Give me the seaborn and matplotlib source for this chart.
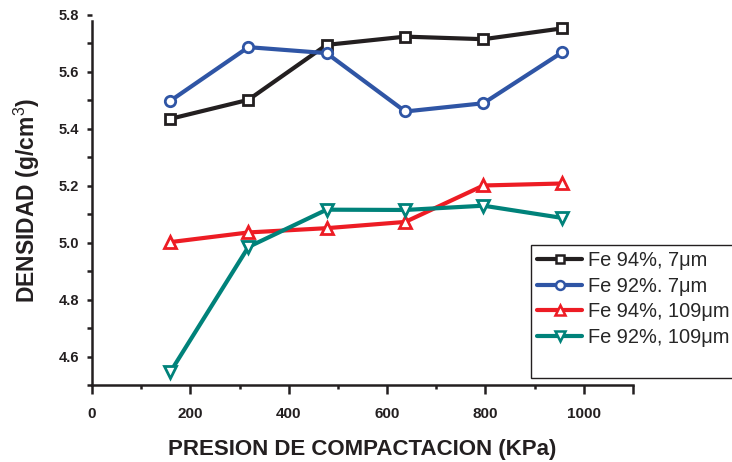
import matplotlib
matplotlib.use("Agg")
import matplotlib.pyplot as plt
import seaborn as sns
import pandas as pd
from matplotlib.lines import Line2D
from matplotlib.ticker import MultipleLocator

# Compaction pressure (KPa) and measured density (g/cm3) for each mix
presion = [159, 318, 477, 637, 796, 956]
fe94_7um = [5.435, 5.502, 5.695, 5.724, 5.715, 5.753]
fe92_7um = [5.498, 5.687, 5.666, 5.461, 5.490, 5.669]
fe94_109um = [5.002, 5.036, 5.051, 5.073, 5.201, 5.208]
fe92_109um = [4.545, 4.985, 5.116, 5.115, 5.130, 5.087]

series = ["Fe 94%, 7\u03bcm", "Fe 92%. 7\u03bcm", "Fe 94%, 109\u03bcm", "Fe 92%, 109\u03bcm"]
valores = [fe94_7um, fe92_7um, fe94_109um, fe92_109um]
colores = ["#231f20", "#2f55a5", "#ed1c24", "#00827a"]
marcadores = ["s", "o", "^", "v"]
tamanos = [7.0, 7.5, 8.5, 8.5]

df = pd.DataFrame(
    [(s, x, y) for s, ys in zip(series, valores) for x, y in zip(presion, ys)],
    columns=["serie", "presion", "densidad"],
)

sns.set_theme(style="ticks")
plt.rcParams["font.family"] = ["Liberation Sans", "DejaVu Sans"]
plt.rcParams["mathtext.fontset"] = "custom"
plt.rcParams["mathtext.rm"] = "Liberation Sans"

fig = plt.figure(figsize=(7.32, 4.62), dpi=100)
ax = fig.add_axes([92 / 732, 1 - 385 / 462, (633 - 92) / 732, (385 - 15) / 462])

for s, c, m, ms in zip(series, colores, marcadores, tamanos):
    sns.lineplot(
        data=df[df["serie"] == s], x="presion", y="densidad", ax=ax,
        color=c, marker=m, markersize=ms, mfc="white", mec=c, mew=2.0,
        linewidth=3.0, label=s, legend=False,
    )

ax.set_xlim(0, 1100)
ax.set_ylim(4.5, 5.8)
ax.xaxis.set_minor_locator(MultipleLocator(100))
ax.yaxis.set_major_locator(MultipleLocator(0.2))
ax.yaxis.set_minor_locator(MultipleLocator(0.1))
ax.set_xticks([0, 200, 400, 600, 800, 1000, 1100])
ax.set_xticklabels(["0", "200", "400", "600", "800", "1000", ""])

for sp in ["top", "right"]:
    ax.spines[sp].set_visible(False)
for sp in ["left", "bottom"]:
    ax.spines[sp].set_linewidth(1.8)
    ax.spines[sp].set_color("#231f20")
ax.spines["left"].set_bounds(4.5, 5.78)

ax.tick_params(which="major", direction="out", width=1.8, colors="#231f20")
ax.tick_params(which="minor", direction="out", length=3, width=1.8, colors="#231f20")
ax.tick_params(axis="x", which="major", length=6.5, pad=9, labelsize=11)
ax.tick_params(axis="y", which="major", length=3.5, pad=6, labelsize=10.5)
ax.tick_params(axis="y", which="minor", length=3.5)
for lab in ax.get_xticklabels() + ax.get_yticklabels():
    lab.set_fontweight("bold")

ax.set_xlabel("PRESION DE COMPACTACION (KPa)", fontsize=16, fontweight="bold",
              color="#231f20", labelpad=13)
ax.set_ylabel("DENSIDAD (g/cm$^{3}$)", fontsize=16.5, fontweight="bold",
              color="#231f20", labelpad=12)

handles = [
    Line2D([], [], color=c, marker=m, markersize=ms * 0.85, mfc="white", mec=c, mew=1.8,
           linewidth=3.0)
    for c, m, ms in zip(colores, marcadores, tamanos)
]
handles.append(Line2D([], [], color="none"))
leg = fig.legend(
    handles, series + [" "], loc="upper left",
    bbox_to_anchor=(531 / 732, 1 - 245 / 462), bbox_transform=fig.transFigure,
    fontsize=14.4, frameon=True, fancybox=False, handlelength=2.25,
    handletextpad=0.3, labelspacing=0.33, borderpad=0.3, borderaxespad=0,
)
leg.get_frame().set_edgecolor("#231f20")
leg.get_frame().set_linewidth(1.0)
leg.get_frame().set_alpha(1)

fig.savefig("out.png", dpi=100)
